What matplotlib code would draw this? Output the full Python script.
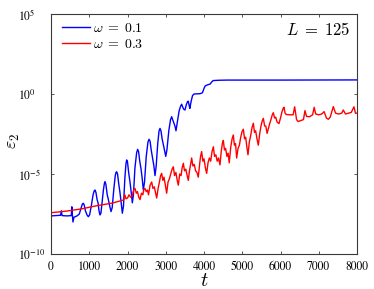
import numpy as np
import matplotlib
matplotlib.use("Agg")
import matplotlib.pyplot as plt

plt.rcParams['mathtext.fontset'] = 'cm'

# ---- data: (t, log10 epsilon_2) ----
blue_points = [
    (0, -7.62), (120, -7.6), (250, -7.58), (270, -7.3), (290, -7.6), (420, -7.62),
    (530, -7.6), (545, -7.05), (560, -7.6), (575, -8.0), (600, -7.7), (680, -7.62),
    (740, -7.5), (790, -7.1), (820, -6.88), (845, -6.83), (870, -6.95), (900, -7.3),
    (940, -7.55), (976, -7.67), (1010, -7.55), (1060, -6.9), (1100, -6.3), (1130, -6.05),
    (1150, -6.0), (1175, -6.15), (1205, -6.6), (1230, -6.8), (1255, -7.3), (1281, -7.56),
    (1305, -7.45), (1330, -6.9), (1370, -6.0), (1395, -5.6), (1412, -5.48), (1435, -5.65),
    (1470, -6.3), (1500, -6.6), (1535, -7.0), (1569, -7.35), (1600, -7.1), (1640, -6.0),
    (1680, -5.1), (1700, -4.9), (1717, -4.86), (1740, -5.0), (1770, -5.6), (1800, -6.1),
    (1835, -6.8), (1865, -7.45), (1895, -7.0), (1930, -5.3), (1960, -4.35), (1979, -4.12),
    (2000, -4.25), (2030, -4.9), (2065, -5.5), (2095, -6.1), (2126, -6.8), (2155, -6.3),
    (2195, -4.6), (2240, -3.65), (2266, -3.46), (2290, -3.6), (2320, -4.2), (2355, -4.7),
    (2385, -5.3), (2414, -6.0), (2445, -5.5), (2490, -3.9), (2535, -3.0), (2562, -2.83),
    (2590, -2.95), (2620, -3.5), (2655, -4.0), (2690, -4.5), (2719, -5.1), (2750, -4.5),
    (2790, -3.1), (2825, -2.3), (2850, -2.15), (2875, -2.3), (2905, -2.8), (2940, -3.2),
    (2975, -3.6), (3000, -3.9), (3030, -3.5), (3080, -2.3), (3125, -1.6), (3155, -1.42),
    (3180, -1.6), (3210, -1.8), (3240, -2.0), (3268, -2.3), (3300, -1.8), (3350, -1.05),
    (3390, -0.75), (3416, -0.64), (3440, -0.8), (3470, -0.95), (3503, -1.0), (3540, -0.65),
    (3570, -0.48), (3590, -0.45), (3610, -0.7), (3630, -0.9), (3660, -0.5), (3700, -0.1),
    (3740, 0.0), (3900, 0.02), (3960, 0.08), (4000, 0.35), (4030, 0.5), (4100, 0.58),
    (4160, 0.62), (4200, 0.75), (4240, 0.84), (4400, 0.86), (4600, 0.87), (6000, 0.87),
    (8000, 0.88),
]

red_points = [
    (0, -7.42), (400, -7.32), (800, -7.18), (1200, -6.98), (1600, -6.82), (1900, -6.62),
    (1930, -6.3), (1960, -6.55), (2000, -6.5), (2040, -6.3), (2080, -6.45), (2120, -6.4),
    (2160, -6.0), (2196, -5.9), (2230, -6.2), (2260, -6.1), (2295, -6.45), (2327, -6.6),
    (2365, -6.2), (2400, -6.3), (2430, -5.95), (2457, -5.9), (2490, -6.1), (2520, -6.0),
    (2550, -6.3), (2590, -5.7), (2632, -5.5), (2665, -5.9), (2700, -5.8), (2735, -6.2),
    (2763, -6.5), (2800, -5.9), (2835, -5.5), (2865, -5.1), (2893, -4.96), (2925, -5.4),
    (2955, -5.2), (2990, -5.7), (3024, -6.2), (3060, -5.5), (3095, -5.3), (3130, -5.0),
    (3165, -4.7), (3198, -4.55), (3230, -5.1), (3265, -4.9), (3300, -5.4), (3329, -5.7),
    (3365, -5.0), (3400, -5.1), (3430, -4.6), (3460, -4.33), (3490, -4.8), (3525, -4.7),
    (3560, -5.1), (3590, -5.4), (3620, -4.8), (3650, -4.4), (3677, -4.0), (3710, -4.5),
    (3745, -4.4), (3780, -4.8), (3815, -4.9), (3851, -5.2), (3885, -4.4), (3910, -3.9),
    (3939, -3.6), (3970, -4.2), (4000, -4.05), (4035, -4.6), (4070, -4.96), (4105, -4.3),
    (4140, -4.0), (4175, -4.2), (4210, -3.6), (4244, -3.3), (4275, -3.9), (4310, -3.8),
    (4345, -4.2), (4380, -4.0), (4418, -4.43), (4450, -3.6), (4480, -3.1), (4505, -2.9),
    (4535, -3.5), (4565, -3.4), (4600, -3.9), (4630, -3.7), (4660, -4.3), (4700, -3.3),
    (4735, -2.8), (4766, -2.56), (4795, -3.2), (4825, -3.1), (4854, -4.0), (4890, -3.4),
    (4925, -3.2), (4960, -2.7), (4995, -2.35), (5028, -2.2), (5060, -2.8), (5090, -2.7),
    (5120, -3.3), (5150, -3.8), (5185, -3.0), (5220, -2.6), (5255, -2.1), (5290, -1.83),
    (5320, -2.4), (5350, -2.3), (5385, -2.8), (5420, -3.2), (5455, -2.5), (5490, -2.0),
    (5520, -1.7), (5551, -1.52), (5585, -2.0), (5615, -2.0), (5650, -2.46), (5690, -2.1),
    (5720, -1.83), (5750, -1.6), (5785, -1.3), (5812, -1.17), (5845, -1.5), (5875, -1.45),
    (5910, -1.75), (5960, -1.85), (6000, -1.5), (6040, -1.1), (6070, -0.9), (6092, -0.83),
    (6120, -1.2), (6150, -1.28), (6250, -1.3), (6330, -1.3), (6370, -0.8), (6420, -1.6),
    (6460, -1.72), (6600, -1.6), (6640, -1.04), (6680, -1.4), (6760, -1.42), (6840, -1.3),
    (6880, -0.83), (6920, -1.25), (7000, -1.3), (7080, -1.25), (7140, -1.1), (7200, -1.5),
    (7250, -1.58), (7300, -1.45), (7380, -0.79), (7440, -1.2), (7520, -1.25), (7600, -1.2),
    (7640, -1.0), (7700, -1.25), (7780, -1.2), (7850, -1.15), (7920, -0.8), (7960, -1.2),
    (8000, -1.2),
]

labels = [r'$\omega\;=\;0.1$', r'$\omega\;=\;0.3$']
xticks = [0, 1000, 2000, 3000, 4000, 5000, 6000, 7000, 8000]
yticks = [1e-10, 1e-5, 1e0, 1e5]
ytick_labels = [r'$10^{-10}$', r'$10^{-5}$', r'$10^{0}$', r'$10^{5}$']

t_blue, lv_blue = zip(*blue_points)
t_red, lv_red = zip(*red_points)

fig = plt.figure(figsize=(3.74, 2.89), dpi=100)
ax = fig.add_axes([51/374, 1-254/289, (357-51)/374, (254-14)/289])

ax.plot(t_blue, 10.0**np.array(lv_blue), color='#0000ff', lw=1.0, label=labels[0])
ax.plot(t_red, 10.0**np.array(lv_red), color='#ff0000', lw=1.0, label=labels[1])

ax.set_yscale('log')
ax.set_xlim(0, 8000)
ax.set_ylim(1e-10, 1e5)
ax.set_xticks(xticks)
ax.set_xticklabels([str(v) for v in xticks], family='STIXGeneral', fontsize=8.5)
ax.set_yticks(yticks)
ax.set_yticklabels(ytick_labels, fontsize=8.5, ha='left')
for lab in ax.get_yticklabels():
    lab.set_math_fontfamily('stix')
ax.yaxis.set_minor_locator(matplotlib.ticker.NullLocator())

frame = '#3a3a3a'
for s in ax.spines.values():
    s.set_color(frame)
    s.set_linewidth(0.8)
ax.tick_params(axis='both', which='major', direction='in', length=2.2, width=0.6,
               color=frame, top=True, right=True)
ax.tick_params(axis='x', pad=5)
ax.tick_params(axis='y', pad=23.5)

ax.set_xlabel(r'$t$', fontsize=14.5, labelpad=-1)
ax.set_ylabel(r'$\varepsilon_2$', fontsize=13)
ax.yaxis.set_label_coords(-0.096, 0.47)

ax.text(0.98, 0.97, r'$L\;=\;125$', transform=ax.transAxes, ha='right', va='top',
        fontsize=12)

ax.legend(loc='upper left', frameon=False, fontsize=10, bbox_to_anchor=(0.036, 0.97),
          borderaxespad=0, borderpad=0, handlelength=2.0, handletextpad=0.2,
          labelspacing=0.15)

fig.savefig('out.png', dpi=100)
